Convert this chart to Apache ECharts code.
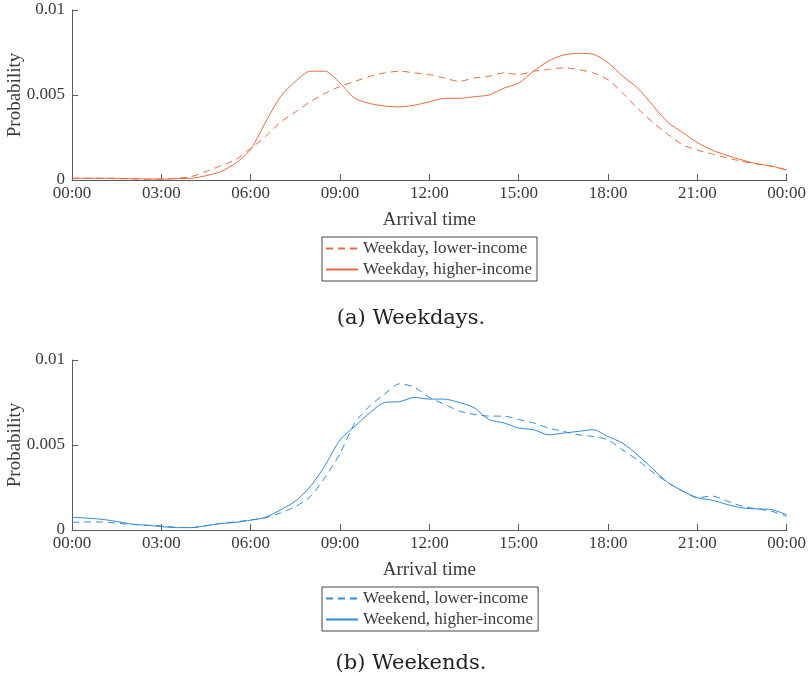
<!DOCTYPE html>
<html>
<head>
<meta charset="utf-8">
<script src="https://cdn.jsdelivr.net/npm/echarts@6/dist/echarts.min.js"></script>
<style>
html,body{margin:0;padding:0;background:#fff;}
#chart{width:808px;height:676px;}
</style>
</head>
<body>
<div id="chart"></div>
<script>
// ---------- DATA ----------
const hours = [0,0.5,1,1.5,2,2.5,3,3.5,4,4.5,5,5.5,6,6.5,7,7.5,8,8.5,9,9.5,10,10.5,11,11.5,12,12.5,13,13.5,14,14.5,15,15.5,16,16.5,17,17.5,18,18.5,19,19.5,20,20.5,21,21.5,22,22.5,23,23.5,24];
const tickHours = [0,3,6,9,12,15,18,21,24];
const yTicks = [0,0.005,0.01];

const weekdayLower = [0.0001,0.0001,0.0001,0.00008,0.00006,0.00005,0.00005,0.0001,0.0002,0.0005,0.00084,0.0012,0.00186,0.00255,0.0034,0.004,0.0046,0.0051,0.0055,0.0058,0.0061,0.0063,0.0064,0.0063,0.0062,0.006,0.0058,0.006,0.0061,0.0063,0.0062,0.0064,0.0065,0.0066,0.0065,0.0063,0.0059,0.0051,0.0042,0.0034,0.0027,0.00207,0.00176,0.00153,0.0013,0.0011,0.00095,0.0008,0.00059];
const weekdayHigher = [0.0001,0.0001,0.0001,0.0001,0.00008,0.00006,0.00005,0.00008,0.0001,0.00025,0.0005,0.001,0.0018,0.0034,0.0049,0.0058,0.0064,0.0064,0.0057,0.0048,0.0045,0.00435,0.0043,0.0044,0.0046,0.0048,0.0048,0.0049,0.005,0.0054,0.0057,0.0064,0.007,0.00735,0.00745,0.0074,0.0069,0.0061,0.0054,0.0044,0.0034,0.0028,0.0022,0.00175,0.00145,0.00118,0.00095,0.00082,0.00058];
const weekendLower = [0.00045,0.00047,0.00047,0.0004,0.00033,0.00028,0.00024,0.00016,0.00014,0.00025,0.00039,0.00048,0.00059,0.00072,0.001,0.00137,0.00196,0.0031,0.0045,0.0063,0.0073,0.008,0.0086,0.0084,0.0078,0.0074,0.007,0.0068,0.0067,0.0067,0.0065,0.0063,0.006,0.0058,0.0056,0.0055,0.0053,0.0047,0.0041,0.0034,0.0028,0.0023,0.0019,0.002,0.0017,0.0014,0.00124,0.0011,0.0008];
const weekendHigher = [0.00075,0.0007,0.00063,0.0005,0.00035,0.00028,0.0002,0.00014,0.00014,0.00025,0.00038,0.00045,0.00058,0.00075,0.00118,0.0017,0.00255,0.0038,0.0053,0.0061,0.0069,0.0075,0.00755,0.0078,0.0077,0.0077,0.0075,0.0072,0.0065,0.0063,0.006,0.0059,0.0056,0.0057,0.0058,0.0059,0.0055,0.0051,0.0044,0.0036,0.0028,0.0023,0.0019,0.00175,0.0015,0.0013,0.00124,0.0012,0.0009];

const names = ['Weekday, lower-income','Weekday, higher-income','Weekend, lower-income','Weekend, higher-income'];
const captions = ['(a) Weekdays.','(b) Weekends.'];
const xName = 'Arrival time';
const yName = 'Probability';

// ---------- STYLE ----------
const ORANGE = '#E56B3E';
const BLUE = '#2F8AD6';
const AXIS = '#5a5a5a';
const TXT = '#3a3a3a';
const SERIF = '"Liberation Serif","Times New Roman",serif';
const DASH = [7,5];

function pair(xs, ys){ return xs.map((x,i)=>[x, ys[i]]); }
function fmtTime(v){ const h = Math.round(v)%24; return (h<10?'0':'')+h+':00'; }
function fmtY(v){ return String(Number(v.toFixed(4))); }

function xAxis(gi){
  return {
    type:'value', gridIndex:gi, min:tickHours[0], max:tickHours[tickHours.length-1], interval:3,
    name:xName, nameLocation:'middle', nameGap:31, nameMoveOverlap:false,
    nameTextStyle:{fontFamily:SERIF,fontSize:19,color:TXT},
    axisLine:{lineStyle:{color:AXIS,width:1}},
    axisTick:{inside:true,length:6,lineStyle:{color:AXIS}},
    axisLabel:{formatter:fmtTime,fontFamily:SERIF,fontSize:17,color:TXT,margin:5},
    splitLine:{show:false}
  };
}
function yAxis(gi){
  return {
    type:'value', gridIndex:gi, min:yTicks[0], max:yTicks[yTicks.length-1], interval:0.005,
    name:yName, nameLocation:'middle', nameGap:47, nameRotate:90, nameMoveOverlap:false,
    nameTextStyle:{fontFamily:SERIF,fontSize:19,color:TXT},
    axisLine:{show:true,lineStyle:{color:AXIS,width:1}},
    axisTick:{show:true,inside:true,length:6,lineStyle:{color:AXIS}},
    axisLabel:{formatter:fmtY,fontFamily:SERIF,fontSize:17,color:TXT,margin:7},
    splitLine:{show:false}
  };
}
function line(name, data, color, dashed, gi){
  return {
    type:'line', name, xAxisIndex:gi, yAxisIndex:gi, data, symbol:'none', smooth:0.25,
    lineStyle:{color,width:1,type:dashed?DASH:'solid'}, itemStyle:{color},
    animation:false, z:3
  };
}
function legend(top, items){
  return {
    data:items, orient:'vertical', left:322, top:top,
    itemWidth:32, itemHeight:12, itemGap:4,
    padding:[3,5,3,3],
    borderColor:'#444', borderWidth:1,
    itemStyle:{color:'rgba(0,0,0,0)',borderColor:'rgba(0,0,0,0)',borderWidth:0,opacity:0},
    textStyle:{fontFamily:SERIF,fontSize:17,color:TXT,lineHeight:17}
  };
}

const chart = echarts.init(document.getElementById('chart'), null, {renderer:'canvas'});
chart.setOption({
  backgroundColor:'#fff',
  animation:false,
  grid:[
    {left:72, top:10, width:714.7, height:170, outerBoundsMode:'none', containLabel:false},
    {left:72, top:360, width:714.7, height:170, outerBoundsMode:'none', containLabel:false}
  ],
  xAxis:[xAxis(0), xAxis(1)],
  yAxis:[yAxis(0), yAxis(1)],
  legend:[legend(237,[names[0],names[1]]), legend(587,[names[2],names[3]])],
  title:[
    {text:captions[0], left:406, top:303, textAlign:'center', textStyle:{fontFamily:'"DejaVu Serif",serif',fontSize:21,fontWeight:'normal',color:'#222'}},
    {text:captions[1], left:406, top:648, textAlign:'center', textStyle:{fontFamily:'"DejaVu Serif",serif',fontSize:21,fontWeight:'normal',color:'#222'}}
  ],
  series:[
    line(names[0], pair(hours, weekdayLower), ORANGE, true, 0),
    line(names[1], pair(hours, weekdayHigher), ORANGE, false, 0),
    line(names[2], pair(hours, weekendLower), BLUE, true, 1),
    line(names[3], pair(hours, weekendHigher), BLUE, false, 1)
  ]
});
</script>
</body>
</html>
